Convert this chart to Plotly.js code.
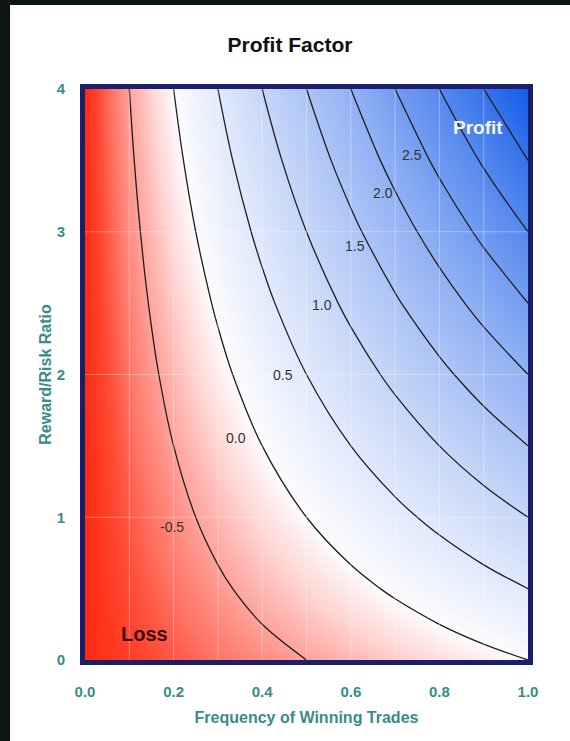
<!DOCTYPE html>
<html><head><meta charset="utf-8">
<script src="https://cdn.plot.ly/plotly-3.0.1.min.js"></script>
<style>
html,body{margin:0;padding:0;background:#0c1515;width:570px;height:741px;overflow:hidden;}
#chart{position:absolute;left:10px;top:5px;width:560px;height:736px;background:#fff;}
</style></head><body><div id="chart"></div>
<script>
// Frequency of winning trades (x) and reward/risk ratio (y)
const winFreq = [0, 0.1, 0.2, 0.3, 0.4, 0.5, 0.6, 0.7, 0.8, 0.9, 1.0];
const rewardRisk = [0, 0.5, 1, 1.5, 2, 2.5, 3, 3.5, 4];
// Expectancy values (rows = reward/risk, cols = win freq)
const expectancy = [
  [-1, -0.9, -0.8, -0.7, -0.6, -0.5, -0.4, -0.3, -0.2, -0.1, 0],
  [-1, -0.85, -0.7, -0.55, -0.4, -0.25, -0.1, 0.05, 0.2, 0.35, 0.5],
  [-1, -0.8, -0.6, -0.4, -0.2, 0, 0.2, 0.4, 0.6, 0.8, 1],
  [-1, -0.75, -0.5, -0.25, 0, 0.25, 0.5, 0.75, 1, 1.25, 1.5],
  [-1, -0.7, -0.4, -0.1, 0.2, 0.5, 0.8, 1.1, 1.4, 1.7, 2],
  [-1, -0.65, -0.3, 0.05, 0.4, 0.75, 1.1, 1.45, 1.8, 2.15, 2.5],
  [-1, -0.6, -0.2, 0.2, 0.6, 1, 1.4, 1.8, 2.2, 2.6, 3],
  [-1, -0.55, -0.1, 0.35, 0.8, 1.25, 1.7, 2.15, 2.6, 3.05, 3.5],
  [-1, -0.5, 0, 0.5, 1, 1.5, 2, 2.5, 3, 3.5, 4]
];
const contourLabels = ['-0.5', '0.0', '0.5', '1.0', '1.5', '2.0', '2.5'];
const xTickVals = [0, 0.2, 0.4, 0.6, 0.8, 1.0];
const xTickText = ['0.0', '0.2', '0.4', '0.6', '0.8', '1.0'];
const yTickVals = [0, 1, 2, 3, 4];
const yTickText = ['0', '1', '2', '3', '4'];

const FONT = 'Liberation Sans, Arial, Helvetica, sans-serif';
const TEAL = '#3b8b89';

const colorscale = [
  [0.0, '#ff2a10'],
  [0.03, '#ff4a34'],
  [0.06, '#ff7566'],
  [0.1, '#ffa39c'],
  [0.15, '#ffd6d4'],
  [0.2, '#fdfbfd'],
  [0.25, '#eef2fd'],
  [0.4, '#c6d6f8'],
  [0.6, '#91b1f4'],
  [0.8, '#5588ee'],
  [1.0, '#165ce8']
];

const heat = {
  type: 'heatmap', x: winFreq, y: rewardRisk, z: expectancy,
  zsmooth: 'best', zmin: -1, zmax: 4, colorscale: colorscale,
  showscale: false, hoverinfo: 'skip'
};
const lines = {
  type: 'contour', x: winFreq, y: rewardRisk, z: expectancy,
  autocontour: false,
  contours: {start: -0.5, end: 3.5, size: 0.5, coloring: 'none', showlabels: false},
  line: {color: '#1e1e1e', width: 1.3, smoothing: 1},
  showscale: false, hoverinfo: 'skip'
};

// label anchor positions (data coords) for contour labels, placed left of each line
const labelPos = [[0.196, 0.93], [0.341, 1.555], [0.447, 2.0], [0.535, 2.49], [0.609, 2.9], [0.673, 3.27], [0.738, 3.54]];
const annotations = contourLabels.map((t, i) => ({
  x: labelPos[i][0], y: labelPos[i][1], xref: 'x', yref: 'y', text: t, showarrow: false,
  font: {family: FONT, size: 14, color: '#333333'}
}));
annotations.push({x: 0.887, y: 3.73, xref: 'x', yref: 'y', text: '<b>Profit</b>', showarrow: false,
  font: {family: FONT, size: 19, color: '#f4f6ee'}});
annotations.push({x: 0.135, y: 0.18, xref: 'x', yref: 'y', text: '<b>Loss</b>', showarrow: false,
  font: {family: FONT, size: 20, color: '#3a0808'}});

const shapes = [];
for (let k = 1; k < 10; k++) {
  shapes.push({type: 'line', xref: 'x', yref: 'y', x0: k / 10, x1: k / 10, y0: 0, y1: 4, layer: 'above',
    line: {color: 'rgba(255,255,255,0.33)', width: 1}});
}
[1, 2, 3].forEach(v => shapes.push({type: 'line', xref: 'x', yref: 'y', x0: 0, x1: 1, y0: v, y1: v, layer: 'above',
  line: {color: 'rgba(255,255,255,0.33)', width: 1}}));

const layout = {
  width: 560, height: 736,
  margin: {l: 75, r: 42, t: 84, b: 81},
  paper_bgcolor: '#ffffff', plot_bgcolor: '#ffffff',
  showlegend: false,
  title: {text: '<b>Profit Factor</b>', x: 0.5, xref: 'container', y: 1 - 40 / 736, yref: 'container',
    yanchor: 'middle', font: {family: FONT, size: 21, color: '#111'}},
  xaxis: {
    range: [0, 1], tickvals: xTickVals, ticktext: xTickText, showgrid: false, zeroline: false,
    showline: true, mirror: true, linecolor: '#1b1f6b', linewidth: 5,
    ticks: 'outside', ticklen: 14, tickcolor: 'rgba(0,0,0,0)',
    tickfont: {family: FONT, size: 15, color: TEAL, weight: 'bold'},
    title: {text: '<b>Frequency of Winning Trades</b>', standoff: 14, font: {family: FONT, size: 16, color: TEAL}}
  },
  yaxis: {
    range: [0, 4], tickvals: yTickVals, ticktext: yTickText, showgrid: false, zeroline: false,
    showline: true, mirror: true, linecolor: '#1b1f6b', linewidth: 5,
    ticks: 'outside', ticklen: 12, tickcolor: 'rgba(0,0,0,0)',
    tickfont: {family: FONT, size: 15, color: TEAL, weight: 'bold'},
    title: {text: '<b>Reward/Risk Ratio</b>', standoff: 3, font: {family: FONT, size: 16, color: TEAL}}
  },
  annotations: annotations,
  shapes: shapes
};

Plotly.newPlot('chart', [heat, lines], layout, {displayModeBar: false, staticPlot: true});
</script>
</body></html>
